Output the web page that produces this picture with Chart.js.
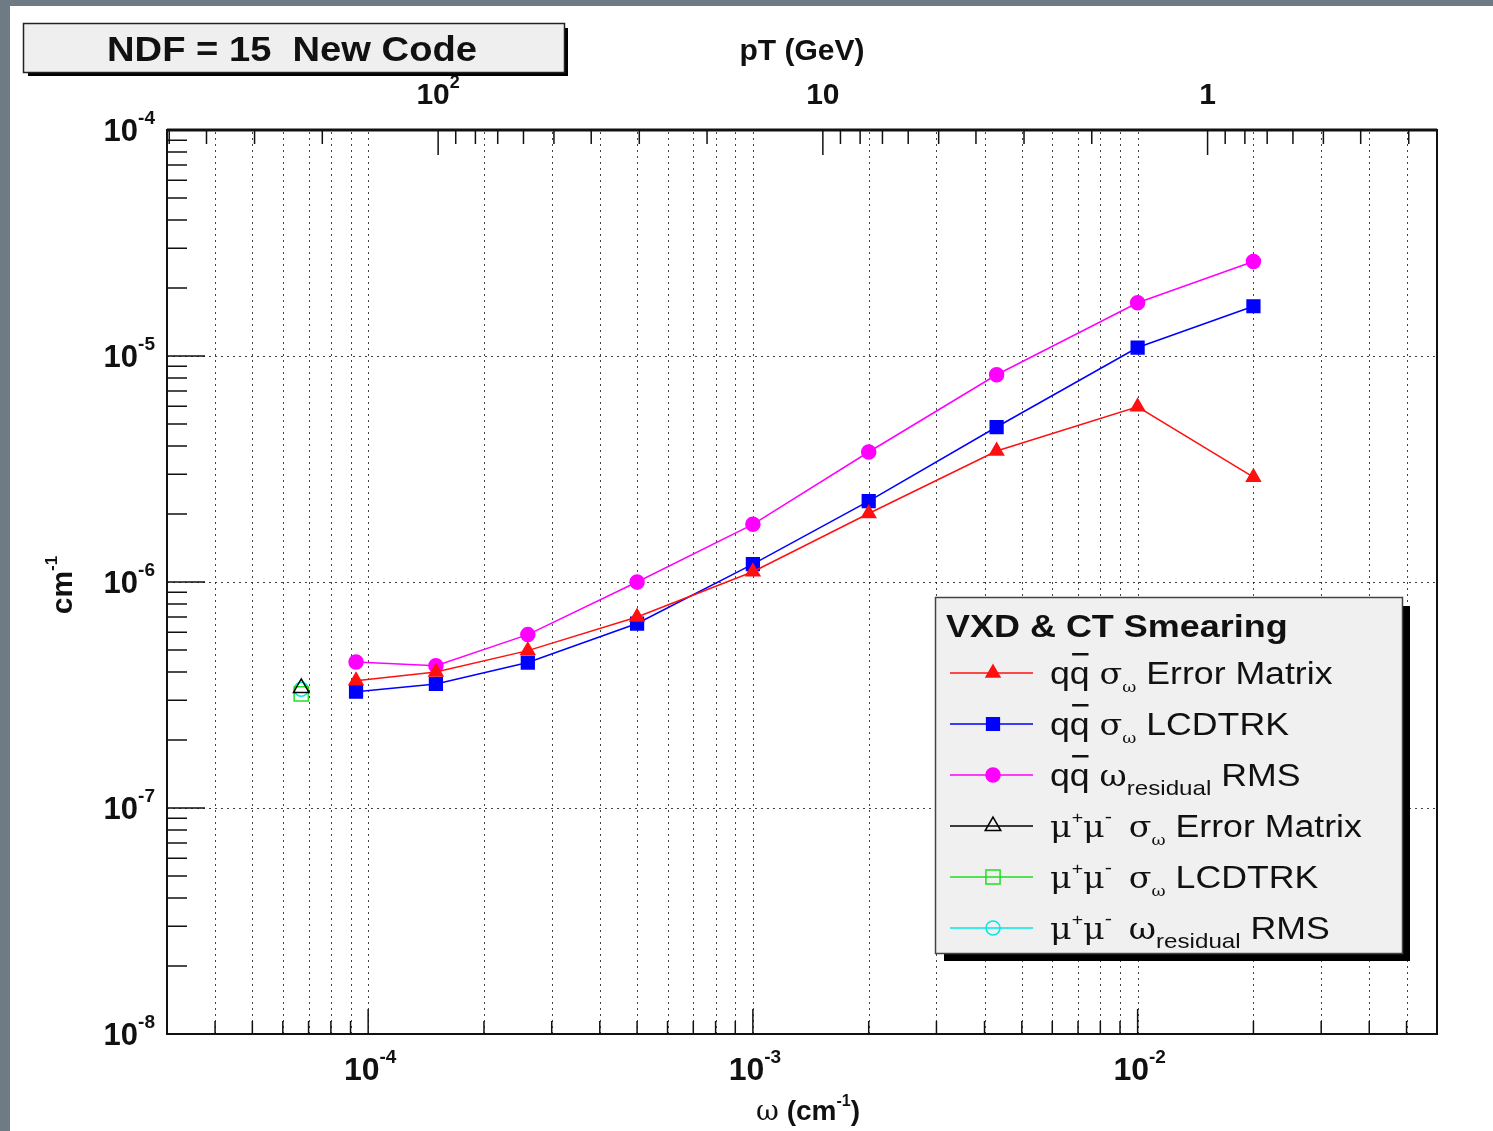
<!DOCTYPE html>
<html>
<head>
<meta charset="utf-8">
<title>NDF = 15 New Code</title>
<script src="https://cdn.jsdelivr.net/npm/chart.js@4.4.1/dist/chart.umd.min.js"></script>
<style>
    html, body { margin: 0; padding: 0; background: #6f7b84; overflow: hidden; }
    #wrap { position: absolute; left: 0; top: 0; width: 1493px; height: 1131px; }
</style>
</head>
<body>
<div id="wrap"><canvas id="omegaChart" width="1493" height="1131"></canvas></div>
<script>
(function () {
    // --- data ---
    var OMEGA = [9.3e-5, 1.5e-4, 2.6e-4, 5.0e-4, 1.0e-3, 2.0e-3, 4.3e-3, 1.0e-2, 2.0e-2];
    var QQ_ERRMAT = [3.66e-7, 4.0e-7, 4.97e-7, 7.0e-7, 1.11e-6, 2.01e-6, 3.8e-6, 5.96e-6, 2.91e-6];
    var QQ_LCDTRK = [3.27e-7, 3.54e-7, 4.4e-7, 6.55e-7, 1.2e-6, 2.28e-6, 4.85e-6, 1.09e-5, 1.66e-5];
    var QQ_RMS = [4.43e-7, 4.26e-7, 5.85e-7, 1.0e-6, 1.8e-6, 3.76e-6, 8.26e-6, 1.72e-5, 2.62e-5];

    var MU_OMEGA = [6.7e-5];
    var MU_ERRMAT = [3.4e-7];
    var MU_LCDTRK = [3.2e-7];
    var MU_RMS = [3.35e-7];

    // --- axes ---
    var X_RANGE = [3e-5, 6e-2];
    var Y_RANGE = [1e-8, 1e-4];
    var PT_OMEGA = 0.0152;          // pT (GeV) * omega (cm^-1)
    var X_LABEL_EXP = [-4, -3, -2];
    var Y_LABEL_EXP = [-8, -7, -6, -5, -4];
    var PT_LABEL_VALUES = [100, 10, 1];
    var PT_LABEL_TEXT = [['10', '2'], ['10', ''], ['1', '']];

    var TITLE = 'NDF = 15  New Code';
    var LEGEND_TITLE = 'VXD & CT Smearing';

    var SANS = '"Liberation Sans", Arial, Helvetica, sans-serif';
    var SERIF = '"DejaVu Serif", "Liberation Serif", serif';
    var INK = '#111111';

    function f(size, bold, serif) {
        return (bold ? 'bold ' : '') + size + 'px ' + (serif ? SERIF : SANS);
    }

    function pts(xs, ys) {
        return xs.map(function (x, i) { return { x: x, y: ys[i] }; });
    }

    // decade + 2..9 subdivisions inside a range
    function logTicks(range) {
        var out = [];
        var lo = Math.floor(Math.log10(range[0])), hi = Math.ceil(Math.log10(range[1]));
        for (var e = lo; e <= hi; e++) {
            for (var m = 1; m <= 9; m++) {
                var v = m * Math.pow(10, e);
                if (v >= range[0] * 0.999 && v <= range[1] * 1.001) out.push({ v: v, major: m === 1 });
            }
        }
        return out;
    }

    function richWidth(ctx, segs) {
        var w = 0;
        segs.forEach(function (s) {
            ctx.font = s.f;
            w += ctx.measureText(s.t).width + (s.gap || 0);
        });
        return w;
    }

    function drawRich(ctx, segs, x, y, align, sx) {
        sx = sx || 1;
        var w = richWidth(ctx, segs) * sx;
        var cx = align === 'center' ? x - w / 2 : (align === 'right' ? x - w : x);
        ctx.save();
        ctx.translate(cx, y);
        ctx.scale(sx, 1);
        ctx.fillStyle = INK;
        ctx.textAlign = 'left';
        ctx.textBaseline = 'alphabetic';
        var px = 0;
        segs.forEach(function (s) {
            ctx.font = s.f;
            var sw = ctx.measureText(s.t).width;
            ctx.fillText(s.t, px, s.dy || 0);
            if (s.over) ctx.fillRect(px + 2, -31, sw - 3, 2.5);
            px += sw + (s.gap || 0);
        });
        ctx.restore();
    }

    function drawMarker(ctx, style, x, y, r, color, filled) {
        ctx.save();
        ctx.beginPath();
        if (style === 'triangle') {
            for (var k = 0; k < 3; k++) {
                var a = k * 2 * Math.PI / 3;
                var px = x + Math.sin(a) * r, py = y - Math.cos(a) * r;
                if (k === 0) ctx.moveTo(px, py); else ctx.lineTo(px, py);
            }
            ctx.closePath();
        } else if (style === 'rect') {
            var s = Math.SQRT1_2 * r;
            ctx.rect(x - s, y - s, 2 * s, 2 * s);
        } else {
            ctx.arc(x, y, r, 0, 2 * Math.PI);
        }
        ctx.lineWidth = 1.5;
        ctx.strokeStyle = color;
        if (filled) { ctx.fillStyle = color; ctx.fill(); }
        ctx.stroke();
        ctx.restore();
    }

    // legend text pieces
    function qqbar() {
        return [{ t: 'q', f: f(31) }, { t: 'q', f: f(31), over: true }];
    }
    function mumu() {
        return [
            { t: 'μ', f: f(29, false, true) }, { t: '+', f: f(17), dy: -14 },
            { t: 'μ', f: f(29, false, true) }, { t: '-', f: f(19), dy: -14, gap: 6 }
        ];
    }
    function sigmaW() {
        return [{ t: ' ', f: f(31) }, { t: 'σ', f: f(29, false, true) }, { t: 'ω', f: f(15, false, true), dy: 8 }];
    }
    function omegaRes() {
        return [{ t: ' ', f: f(31) }, { t: 'ω', f: f(29, false, true) }, { t: 'residual', f: f(21), dy: 9 }];
    }

    var LEGEND_ROWS = [
        qqbar().concat(sigmaW(), [{ t: ' Error Matrix', f: f(31) }]),
        qqbar().concat(sigmaW(), [{ t: ' LCDTRK', f: f(31) }]),
        qqbar().concat(omegaRes(), [{ t: ' RMS', f: f(31) }]),
        mumu().concat(sigmaW(), [{ t: ' Error Matrix', f: f(31) }]),
        mumu().concat(sigmaW(), [{ t: ' LCDTRK', f: f(31) }]),
        mumu().concat(omegaRes(), [{ t: ' RMS', f: f(31) }])
    ];

    var rootStyle = {
        id: 'rootStyle',
        beforeDraw: function (chart) {
            var ctx = chart.ctx;
            ctx.save();
            ctx.fillStyle = '#6f7b84';
            ctx.fillRect(0, 0, chart.width, chart.height);
            ctx.fillStyle = '#ffffff';
            ctx.fillRect(10, 6, chart.width - 10, chart.height - 6);
            ctx.restore();
        },
        beforeDatasetsDraw: function (chart) {
            var ctx = chart.ctx, a = chart.chartArea;
            var xs = chart.scales.x, ys = chart.scales.y;
            ctx.save();
            ctx.strokeStyle = 'rgba(20,20,20,0.8)';
            ctx.lineWidth = 1;
            ctx.setLineDash([2, 4]);
            logTicks(X_RANGE).forEach(function (t) {
                var px = Math.round(xs.getPixelForValue(t.v)) + 0.5;
                if (px <= a.left + 3 || px >= a.right - 3) return;
                ctx.beginPath();
                ctx.moveTo(px, a.bottom);
                ctx.lineTo(px, a.top);
                ctx.stroke();
            });
            Y_LABEL_EXP.forEach(function (e) {
                var py = Math.round(ys.getPixelForValue(Math.pow(10, e))) + 0.5;
                if (py <= a.top + 3 || py >= a.bottom - 3) return;
                ctx.beginPath();
                ctx.moveTo(a.left, py);
                ctx.lineTo(a.right, py);
                ctx.stroke();
            });
            ctx.restore();
        },
        afterDatasetsDraw: function (chart) {
            var ctx = chart.ctx, a = chart.chartArea;
            var xs = chart.scales.x, ys = chart.scales.y, ps = chart.scales.pt;

            // ticks, drawn inside the frame
            ctx.save();
            ctx.strokeStyle = INK;
            ctx.lineWidth = 1.5;
            ctx.beginPath();
            logTicks(X_RANGE).forEach(function (t) {
                var px = xs.getPixelForValue(t.v);
                ctx.moveTo(px, a.bottom);
                ctx.lineTo(px, a.bottom - (t.major ? 25 : 13));
            });
            logTicks(Y_RANGE).forEach(function (t) {
                var py = ys.getPixelForValue(t.v);
                ctx.moveTo(a.left, py);
                ctx.lineTo(a.left + (t.major ? 38 : 20), py);
            });
            logTicks([PT_OMEGA / X_RANGE[1], PT_OMEGA / X_RANGE[0]]).forEach(function (t) {
                var px = ps.getPixelForValue(t.v);
                ctx.moveTo(px, a.top);
                ctx.lineTo(px, a.top + (t.major ? 25 : 14));
            });
            ctx.stroke();

            // frame
            ctx.lineWidth = 2;
            ctx.strokeRect(a.left, a.top, a.right - a.left, a.bottom - a.top);
            ctx.lineWidth = 3;
            ctx.beginPath();
            ctx.moveTo(a.left, a.top);
            ctx.lineTo(a.right, a.top);
            ctx.stroke();
            ctx.restore();

            // tick labels
            X_LABEL_EXP.forEach(function (e) {
                drawRich(ctx, [{ t: '10', f: f(32, true) }, { t: String(e), f: f(19, true), dy: -17 }],
                    xs.getPixelForValue(Math.pow(10, e)) + 2, a.bottom + 46, 'center');
            });
            Y_LABEL_EXP.forEach(function (e) {
                drawRich(ctx, [{ t: '10', f: f(31, true) }, { t: String(e), f: f(19, true), dy: -17 }],
                    a.left - 12, ys.getPixelForValue(Math.pow(10, e)) + 11, 'right');
            });
            PT_LABEL_VALUES.forEach(function (v, i) {
                var segs = [{ t: PT_LABEL_TEXT[i][0], f: f(30, true) }];
                if (PT_LABEL_TEXT[i][1]) segs.push({ t: PT_LABEL_TEXT[i][1], f: f(18, true), dy: -16 });
                drawRich(ctx, segs, ps.getPixelForValue(v), a.top - 26, 'center');
            });

            // axis titles
            drawRich(ctx, [{ t: 'pT (GeV)', f: f(30, true) }], 802, 60, 'center');
            drawRich(ctx, [
                { t: 'ω', f: f(28, false, true) }, { t: ' (cm', f: f(28, true) },
                { t: '-1', f: f(16, true), dy: -14 }, { t: ')', f: f(28, true) }
            ], 860, 1120, 'right');
            ctx.save();
            ctx.translate(72, 585);
            ctx.rotate(-Math.PI / 2);
            drawRich(ctx, [{ t: 'cm', f: f(30, true) }, { t: '-1', f: f(17, true), dy: -15 }], 0, 0, 'center');
            ctx.restore();

            // title box
            ctx.save();
            ctx.fillStyle = '#000000';
            ctx.fillRect(28, 28, 540, 48);
            ctx.fillStyle = '#efefef';
            ctx.fillRect(23, 23, 541, 49);
            ctx.strokeStyle = '#222222';
            ctx.lineWidth = 1.5;
            ctx.strokeRect(23.5, 23.5, 541, 49);
            ctx.restore();
            drawRich(ctx, [{ t: TITLE, f: f(35, true) }], 292, 61, 'center', 1.09);

            // legend
            ctx.save();
            ctx.fillStyle = '#000000';
            ctx.fillRect(944, 606, 466, 355);
            ctx.fillStyle = '#f0f0f0';
            ctx.fillRect(935, 597, 467, 356);
            ctx.strokeStyle = '#444444';
            ctx.lineWidth = 1.5;
            ctx.strokeRect(935.5, 597.5, 467, 356);
            ctx.restore();
            drawRich(ctx, [{ t: LEGEND_TITLE, f: f(31, true) }], 946, 637, 'left', 1.16);
            chart.data.datasets.forEach(function (ds, i) {
                var ry = 673 + i * 51;
                ctx.save();
                ctx.strokeStyle = ds.borderColor;
                ctx.lineWidth = 1.5;
                ctx.beginPath();
                ctx.moveTo(950, ry);
                ctx.lineTo(1033, ry);
                ctx.stroke();
                ctx.restore();
                drawMarker(ctx, ds.pointStyle, 993, ry, ds.pointRadius, ds.borderColor, ds.filled);
                drawRich(ctx, LEGEND_ROWS[i], 1050, ry + 11, 'left', 1.15);
            });
        }
    };

    function series(label, xs, ys, color, style, radius, filled) {
        return {
            label: label,
            data: pts(xs, ys),
            borderColor: color,
            backgroundColor: color,
            pointBackgroundColor: filled ? color : 'rgba(255,255,255,0)',
            pointBorderColor: color,
            pointBorderWidth: 1.5,
            pointStyle: style,
            pointRadius: radius,
            borderWidth: 1.5,
            showLine: filled,
            fill: false,
            tension: 0,
            filled: filled
        };
    }

    new Chart(document.getElementById('omegaChart'), {
        type: 'line',
        data: {
            datasets: [
                series('qq sigma Error Matrix', OMEGA, QQ_ERRMAT, '#ff1010', 'triangle', 8, true),
                series('qq sigma LCDTRK', OMEGA, QQ_LCDTRK, '#0000ff', 'rect', 9, true),
                series('qq omega residual RMS', OMEGA, QQ_RMS, '#ff00ff', 'circle', 7, true),
                series('mu mu sigma Error Matrix', MU_OMEGA, MU_ERRMAT, '#000000', 'triangle', 9, false),
                series('mu mu sigma LCDTRK', MU_OMEGA, MU_LCDTRK, '#22dd22', 'rect', 10, false),
                series('mu mu omega residual RMS', MU_OMEGA, MU_RMS, '#00e8e8', 'circle', 7, false)
            ]
        },
        options: {
            responsive: false,
            animation: false,
            devicePixelRatio: 1,
            layout: { padding: { left: 167, top: 130, right: 56, bottom: 97 } },
            plugins: { legend: { display: false }, tooltip: { enabled: false } },
            scales: {
                x: { type: 'logarithmic', min: X_RANGE[0], max: X_RANGE[1], display: false },
                y: { type: 'logarithmic', min: Y_RANGE[0], max: Y_RANGE[1], display: false },
                pt: {
                    type: 'logarithmic', axis: 'x', position: 'top', reverse: true,
                    min: PT_OMEGA / X_RANGE[1], max: PT_OMEGA / X_RANGE[0], display: false
                }
            }
        },
        plugins: [rootStyle]
    });
})();
</script>
</body>
</html>
